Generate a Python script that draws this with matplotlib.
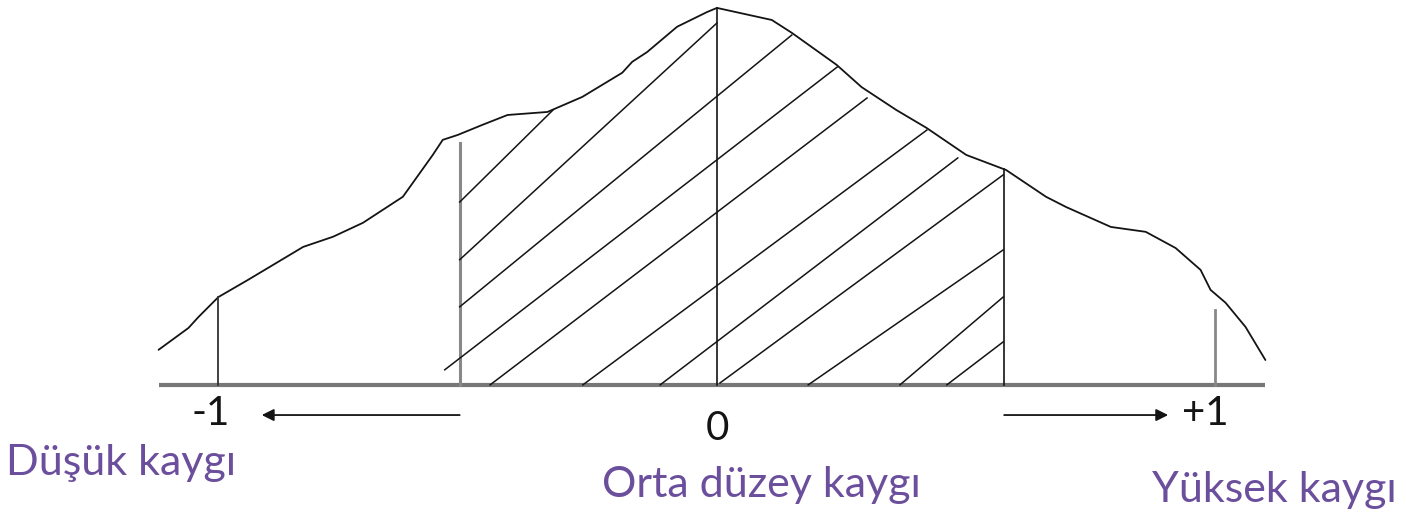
import matplotlib.pyplot as plt
import numpy as np

# Anxiety distribution sketch: x is the score (-1 .. +1), h is relative height (peak = 1)
curve_x = [-1.12, -1.06, -1.04, -1.00, -0.94, -0.83, -0.77, -0.71, -0.63, -0.61,
           -0.57, -0.55, -0.52, -0.47, -0.42, -0.34, -0.27, -0.19, -0.17, -0.14, -0.08,
           -0.02, 0.00, 0.11, 0.15, 0.24, 0.29, 0.36, 0.42, 0.50, 0.58,
           0.66, 0.70, 0.79, 0.86, 0.92, 0.97, 0.99, 1.02, 1.06, 1.10]
curve_h = [0.093, 0.151, 0.180, 0.233, 0.279, 0.366, 0.393, 0.430, 0.499, 0.536,
           0.610, 0.650, 0.663, 0.690, 0.716, 0.724, 0.764, 0.828, 0.857, 0.883, 0.950,
           0.989, 1.000, 0.968, 0.934, 0.849, 0.790, 0.729, 0.682, 0.610, 0.570,
           0.499, 0.472, 0.419, 0.406, 0.363, 0.305, 0.252, 0.218, 0.154, 0.066]

# shaded (middle) band limits
band_left = -0.516
band_right = 0.576
band_left_top = 0.642
plus_tick_top = 0.199

# hatch strokes inside the band (start / end)
hatch_x0 = [-0.516, -0.516, -0.516, -0.546, -0.455, -0.269, -0.114, 0.006, 0.183, 0.367, 0.461]
hatch_h0 = [0.485, 0.332, 0.207, 0.040, 0.000, 0.000, 0.000, 0.005, 0.000, 0.000, 0.000]
hatch_x1 = [-0.329, 0.000, 0.150, 0.241, 0.301, 0.421, 0.483, 0.574, 0.574, 0.574, 0.574]
hatch_h1 = [0.729, 0.960, 0.928, 0.843, 0.761, 0.676, 0.602, 0.557, 0.358, 0.233, 0.114]

tick_labels = ['-1', '0', '+1']
tick_pos = [-1.015, 0.0, 0.979]
tick_base = [-0.106, -0.146, -0.106]

group_labels = ['Düşük kaygı', 'Orta düzey kaygı', 'Yüksek kaygı']
group_pos = [-1.196, 0.090, 1.119]
group_base = [-0.239, -0.297, -0.310]

purple = '#6c4f9c'
ink = '#141414'
grey = '#777777'


def main():
    fig = plt.figure(figsize=(14.06, 5.27), dpi=100)
    ax = fig.add_axes([0, 0, 1, 1])
    ax.set_xlim(-1.438, 1.382)
    ax.set_ylim(-0.377, 1.021)
    ax.axis('off')

    cx = np.array(curve_x)
    ch = np.array(curve_h)

    # curve and baseline
    ax.plot(cx, ch, color=ink, lw=1.3, solid_capstyle='round', solid_joinstyle='round')
    ax.plot([cx[0], cx[-1]], [0, 0], color=grey, lw=3.0, solid_capstyle='butt')

    # vertical markers
    ax.plot([-1.0, -1.0], [0, np.interp(-1.0, cx, ch)], color='#333333', lw=1.3)
    ax.plot([band_left, band_left], [0, band_left_top], color='#888888', lw=2.2)
    ax.plot([0, 0], [0, ch.max()], color=ink, lw=1.2)
    ax.plot([band_right, band_right], [0, np.interp(band_right, cx, ch)], color=ink, lw=1.2)
    ax.plot([0.999, 0.999], [0, plus_tick_top], color='#888888', lw=2.0)

    # hatching
    for x0, h0, x1, h1 in zip(hatch_x0, hatch_h0, hatch_x1, hatch_h1):
        ax.plot([x0, x1], [h0, h1], color=ink, lw=1.1)

    # arrows
    arrow = dict(arrowstyle='-|>', color=ink, lw=1.3, mutation_scale=18,
                 shrinkA=0, shrinkB=0)
    ax.annotate('', xy=(-0.913, -0.080), xytext=(band_left, -0.080), arrowprops=arrow)
    ax.annotate('', xy=(0.905, -0.080), xytext=(band_right, -0.080), arrowprops=arrow)

    fam = ['Lato', 'DejaVu Sans']
    for lab, x, y in zip(tick_labels, tick_pos, tick_base):
        ax.text(x, y, lab, ha='center', va='baseline', fontsize=29,
                color=ink, family=fam)
    for lab, x, y in zip(group_labels, group_pos, group_base):
        ax.text(x, y, lab, ha='center', va='baseline', fontsize=31,
                color=purple, family=fam)

    fig.savefig('out.png', dpi=100)


if __name__ == '__main__':
    main()
